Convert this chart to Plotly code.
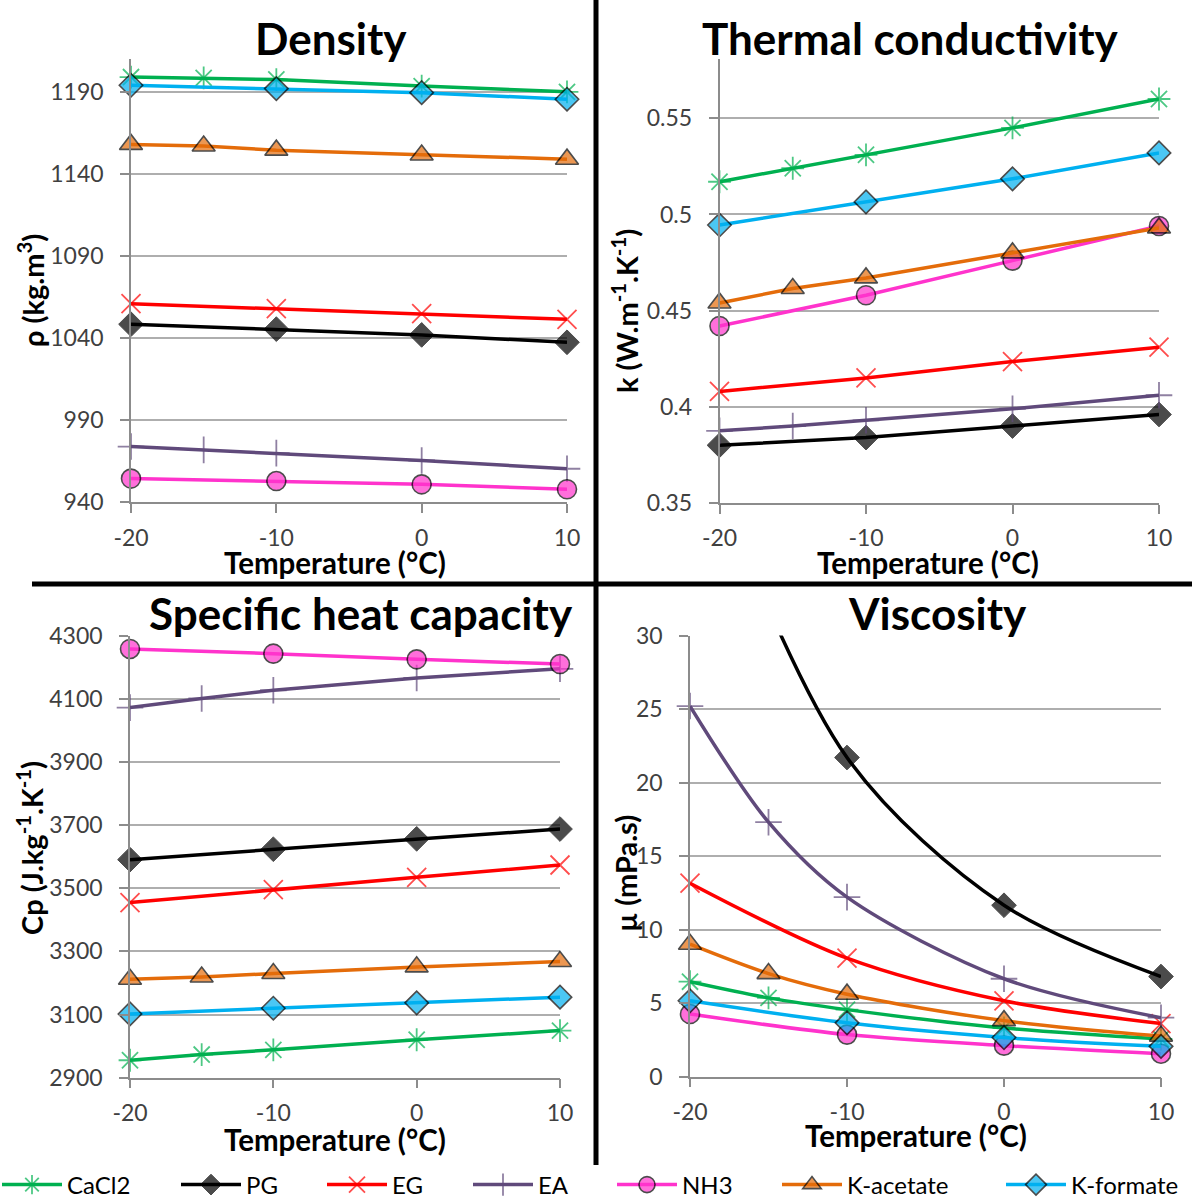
import plotly.graph_objects as go

W, H = 1192, 1202

# ---------------- data ----------------
T5 = [-20, -15, -10, 0, 10]
T4 = [-20, -10, 0, 10]
x_tickvals = [-20, -10, 0, 10]
x_ticktext = ["-20", "-10", "0", "10"]
series_names = ["CaCl2", "PG", "EG", "EA", "NH3", "K-acetate", "K-formate"]

# Density (kg/m3)
rho_cacl2 = [1199, 1198.5, 1197.5, 1193.5, 1190]
rho_pg = [1048.5, 1045.5, 1042, 1037.5]
rho_eg = [1061, 1058, 1055, 1051.5]
rho_ea = [974, 972, 970, 965.5, 960.5]
rho_nh3 = [954.5, 953, 951, 948]
rho_kac = [1158, 1157, 1154.5, 1151.5, 1149]
rho_kfo = [1194, 1192, 1189.5, 1185.5]

# Thermal conductivity (W/m/K)
k_cacl2 = [0.517, 0.524, 0.531, 0.545, 0.560]
k_pg = [0.380, 0.384, 0.390, 0.396]
k_eg = [0.408, 0.415, 0.4235, 0.431]
k_ea = [0.3875, 0.390, 0.393, 0.399, 0.406]
k_nh3 = [0.442, 0.458, 0.476, 0.494]
k_kac = [0.454, 0.4615, 0.467, 0.480, 0.493]
k_kfo = [0.4945, 0.5065, 0.5185, 0.532]

# Specific heat capacity (J/kg/K)
cp_cacl2 = [2955, 2973, 2988, 3020, 3049]
cp_pg = [3591, 3624, 3657, 3688]
cp_eg = [3455, 3496, 3535, 3574]
cp_ea = [4073, 4102, 4128, 4167, 4196]
cp_nh3 = [4259, 4244, 4226, 4211]
cp_kac = [3212, 3219, 3230, 3251, 3268]
cp_kfo = [3102, 3120, 3137, 3155]

# Viscosity (mPa.s)
mu_cacl2 = [6.45, 5.35, 4.55, 3.3, 2.55]
mu_pg = [45, 21.7, 11.65, 6.8]
mu_eg = [13.15, 8.05, 5.15, 3.6]
mu_ea = [25.2, 17.3, 12.2, 6.65, 4.0]
mu_nh3 = [4.25, 2.85, 2.1, 1.55]
mu_kac = [9.0, 7.0, 5.6, 3.8, 2.75]
mu_kfo = [5.15, 3.65, 2.65, 2.05]

# ---------------- styles ----------------
styles = {
    "CaCl2": dict(color="#00B050", symbol="asterisk-open", size=19, mline="#00B050", mfill="#00B050", mlw=1.8),
    "PG": dict(color="#000000", symbol="diamond", size=19, mline="#000000", mfill="#000000", mlw=1),
    "EG": dict(color="#FF0000", symbol="x-thin-open", size=19, mline="#FF0000", mfill="#FF0000", mlw=1.8),
    "EA": dict(color="#604A7B", symbol="cross-thin-open", size=19, mline="#604A7B", mfill="#604A7B", mlw=1.8),
    "NH3": dict(color="#FF33CC", symbol="circle", size=19, mline="#000000", mfill="#FF33CC", mlw=1.6),
    "K-acetate": dict(color="#E46C0A", symbol="triangle-up", size=20, mline="#000000", mfill="#E46C0A", mlw=1.6),
    "K-formate": dict(color="#00B0F0", symbol="diamond", size=18, mline="#000000", mfill="#00B0F0", mlw=1.6),
}

panels = [
    dict(x="x", y="y", data=[(T5, rho_cacl2), (T4, rho_pg), (T4, rho_eg), (T5, rho_ea), (T4, rho_nh3), (T5, rho_kac), (T4, rho_kfo)],
         px=(131, 567), py=(59, 502.4), yr=(940, 1210), dt=50, t0=940, smooth=False),
    dict(x="x2", y="y2", data=[(T5, k_cacl2), (T4, k_pg), (T4, k_eg), (T5, k_ea), (T4, k_nh3), (T5, k_kac), (T4, k_kfo)],
         px=(719.5, 1159), py=(59, 503), yr=(0.35, 0.5808), dt=0.05, t0=0.35, smooth=False),
    dict(x="x3", y="y3", data=[(T5, cp_cacl2), (T4, cp_pg), (T4, cp_eg), (T5, cp_ea), (T4, cp_nh3), (T5, cp_kac), (T4, cp_kfo)],
         px=(130, 560), py=(636, 1077.6), yr=(2900, 4300), dt=200, t0=2900, smooth=False),
    dict(x="x4", y="y4", data=[(T5, mu_cacl2), (T4, mu_pg), (T4, mu_eg), (T5, mu_ea), (T4, mu_nh3), (T5, mu_kac), (T4, mu_kfo)],
         px=(690, 1161), py=(635.5, 1076.5), yr=(0, 30), dt=5, t0=0, smooth=True),
]

FONT = "Lato"
TICKCOL = "#404040"
GRID = "#AEAEAE"
AXIS = "#8C8C8C"

fig = go.Figure()

legend_ids = ["legend", "legend2", "legend3", "legend4", "legend5", "legend6", "legend7"]

for pi, p in enumerate(panels):
    for si, (name, (xs, ys)) in enumerate(zip(series_names, p["data"])):
        st = styles[name]
        ymax = p["yr"][1]
        sizes = [st["size"] if v <= ymax else 0 for v in ys]
        fig.add_trace(go.Scatter(
            x=xs, y=ys, name=name, xaxis=p["x"], yaxis=p["y"],
            mode="lines+markers",
            line=dict(color=st["color"], width=3.5,
                      shape="spline" if p["smooth"] else "linear", smoothing=0.9),
            marker=dict(symbol=st["symbol"], size=sizes, color=st["mfill"],
                        line=dict(color=st["mline"], width=st["mlw"])),
            cliponaxis=False,
            showlegend=(pi == 0),
            legend=legend_ids[si],
            hoverinfo="skip",
        ))

layout = dict(
    template="none",
    width=W, height=H,
    margin=dict(l=0, r=0, t=0, b=0, pad=0, autoexpand=False),
    paper_bgcolor="white", plot_bgcolor="white",
    font=dict(family=FONT, color="#000000"),
    hovermode=False,
)

for i, p in enumerate(panels):
    sx = "" if i == 0 else str(i + 1)
    layout["xaxis" + sx] = dict(
        domain=[p["px"][0] / W, p["px"][1] / W], range=[-20, 10],
        anchor="y" + sx, tickmode="array", tickvals=x_tickvals, ticktext=x_ticktext,
        showgrid=False, zeroline=False, showline=True, linecolor=AXIS, linewidth=1.5,
        ticks="outside", ticklen=9, tickcolor=AXIS, tickwidth=1.5,
        ticklabelstandoff=5, automargin=False,
        tickfont=dict(family=FONT, size=23, color=TICKCOL),
    )
    layout["yaxis" + sx] = dict(
        domain=[1 - p["py"][1] / H, 1 - p["py"][0] / H], range=list(p["yr"]),
        anchor="x" + sx, tickmode="linear", tick0=p["t0"], dtick=p["dt"],
        showgrid=True, gridcolor=GRID, gridwidth=1.5, zeroline=False,
        showline=True, linecolor=AXIS, linewidth=1.5,
        ticks="outside", ticklen=9, tickcolor=AXIS, tickwidth=1.5,
        ticklabelstandoff=12, automargin=False,
        tickfont=dict(family=FONT, size=23, color=TICKCOL),
    )

# legends (one per series so positions match reference)
leg_x = [-3, 176, 322, 468, 612, 777, 1001]
for lid, lx in zip(legend_ids, leg_x):
    layout[lid] = dict(
        x=lx / W, y=1 - 1185 / H, xanchor="left", yanchor="middle",
        orientation="h", bgcolor="rgba(0,0,0,0)", borderwidth=0,
        font=dict(family=FONT, size=24, color="#000000"),
        itemwidth=60, itemclick=False, itemdoubleclick=False,
    )

fig.update_layout(**layout)

def ann(text, x, y, size, bold=True, angle=0):
    fig.add_annotation(
        text=f"<b>{text}</b>" if bold else text, x=x / W, y=1 - y / H,
        xref="paper", yref="paper", showarrow=False, textangle=angle,
        xanchor="center", yanchor="middle",
        font=dict(family=FONT, size=size, color="#000000"),
    )

# panel titles
ann("Density", 331, 38, 44)
ann("Thermal conductivity", 910, 38, 44)
ann("Specific heat capacity", 361, 613, 44)
ann("Viscosity", 937, 613, 44)

# axis titles
ann("Temperature (°C)", 335, 562, 29.5)
ann("Temperature (°C)", 928, 562, 29.5)
ann("Temperature (°C)", 335, 1139, 29.5)
ann("Temperature (°C)", 916, 1135, 29.5)
ann("ρ (kg.m<sup>3</sup>)", 31, 291, 29, angle=-90)
ann("k (W.m<sup>-1</sup>.K<sup>-1</sup>)", 625, 311, 29, angle=-90)
ann("Cp (J.kg<sup>-1</sup>.K<sup>-1</sup>)", 30, 848, 29, angle=-90)
ann("µ (mPa.s)", 625, 874, 29, angle=-90)

# separator lines
fig.add_shape(type="line", xref="paper", yref="paper",
              x0=596 / W, x1=596 / W, y0=1, y1=1 - 1165 / H,
              line=dict(color="black", width=5))
fig.add_shape(type="line", xref="paper", yref="paper",
              x0=32 / W, x1=1, y0=1 - 584 / H, y1=1 - 584 / H,
              line=dict(color="black", width=5))

fig.write_html("out.html",
               config={"displayModeBar": False},
               post_script="document.body.style.margin='0px';document.body.style.overflow='hidden';")
